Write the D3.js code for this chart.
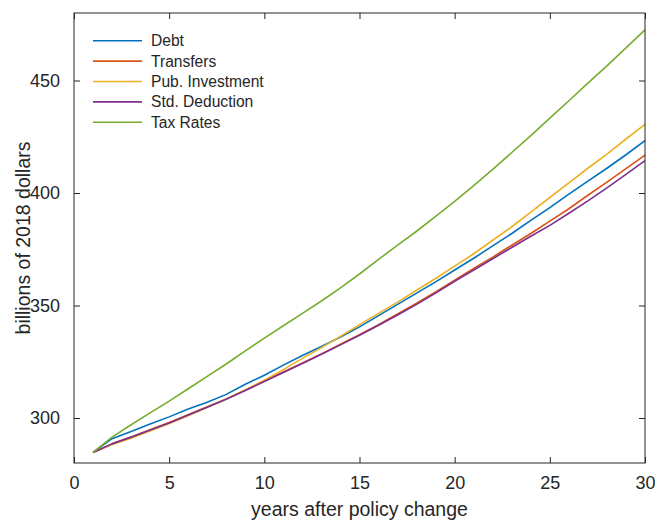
<!DOCTYPE html>
<html>
<head>
<meta charset="utf-8">
<script src="https://cdn.jsdelivr.net/npm/d3@7"></script>
<style>
  html, body { margin: 0; padding: 0; background: #fff; }
  svg { display: block; }
  text { font-family: "Liberation Sans", Arial, Helvetica, sans-serif; fill: #262626; }
</style>
</head>
<body>
<svg id="chart" width="655" height="522"></svg>
<script>
const years = d3.range(1, 31);
const seriesNames = ["Debt", "Transfers", "Pub. Investment", "Std. Deduction", "Tax Rates"];
const seriesColors = ["#0072BD", "#D95319", "#EDB120", "#7E2F8E", "#77AC30"];

const debt = [284.7, 290.8, 294.0, 297.3, 300.5, 304.0, 307.0, 310.5, 315.0, 319.0,
              323.5, 327.8, 331.8, 336.0, 340.5, 345.5, 350.5, 355.5, 360.5, 365.8,
              371.0, 376.5, 382.0, 387.8, 393.5, 399.5, 405.3, 411.0, 417.0, 423.3];
const transfers = [284.7, 288.5, 291.5, 294.8, 298.0, 301.5, 305.0, 308.5, 312.5, 316.5,
                   320.5, 324.5, 328.5, 332.8, 337.0, 341.5, 346.3, 351.0, 356.0, 361.3,
                   366.5, 371.5, 376.8, 382.0, 387.5, 393.0, 399.0, 404.8, 410.8, 416.8];
const pubInvestment = [284.7, 288.2, 291.0, 294.2, 297.5, 301.0, 304.8, 308.5, 312.5, 316.8,
                       321.5, 326.5, 331.3, 336.3, 341.5, 346.5, 351.5, 356.8, 362.0, 367.5,
                       373.0, 379.0, 385.0, 391.5, 398.0, 404.5, 411.0, 417.3, 424.0, 430.5];
const stdDeduction = [284.7, 288.5, 291.5, 294.7, 297.8, 301.3, 304.8, 308.3, 312.2, 316.2,
                      320.2, 324.2, 328.3, 332.5, 336.8, 341.2, 345.8, 350.5, 355.5, 360.8,
                      365.8, 370.8, 375.8, 380.8, 385.6, 391.0, 396.5, 402.3, 408.3, 414.4];
const taxRates = [284.7, 291.5, 297.0, 302.3, 307.5, 313.0, 318.5, 324.0, 329.8, 335.5,
                  341.0, 346.5, 352.0, 357.8, 364.0, 370.5, 376.8, 383.0, 389.6, 396.3,
                  403.3, 410.5, 418.0, 425.5, 433.3, 441.0, 448.8, 456.5, 464.5, 472.5];

const xTicks = [0, 5, 10, 15, 20, 25, 30];
const yTicks = [300, 350, 400, 450];
const xLabel = "years after policy change";
const yLabel = "billions of 2018 dollars";

const allSeries = [debt, transfers, pubInvestment, stdDeduction, taxRates];

const svg = d3.select("#chart");
const pLeft = 74, pRight = 645, pTop = 13, pBottom = 463;

const x = d3.scaleLinear().domain([0, 30]).range([pLeft, pRight]);
const y = d3.scaleLinear().domain([280, 480]).range([pBottom, pTop]);

const axisColor = "#262626";
const fs = 18;

// axes
const gx = svg.append("g").attr("transform", `translate(0,${pBottom})`)
  .call(d3.axisBottom(x).tickValues(xTicks).tickSize(-6).tickPadding(13).tickFormat(d3.format("d")));
const gxTop = svg.append("g").attr("transform", `translate(0,${pTop})`)
  .call(d3.axisTop(x).tickValues(xTicks).tickSize(-6).tickFormat(""));
const gy = svg.append("g").attr("transform", `translate(${pLeft},0)`)
  .call(d3.axisLeft(y).tickValues(yTicks).tickSize(-6).tickPadding(14).tickFormat(d3.format("d")));
const gyRight = svg.append("g").attr("transform", `translate(${pRight},0)`)
  .call(d3.axisRight(y).tickValues(yTicks).tickSize(-6).tickFormat(""));

[gx, gxTop, gy, gyRight].forEach(g => {
  g.select(".domain").remove();
  g.selectAll(".tick line").attr("stroke", axisColor).attr("stroke-width", 1);
  g.selectAll(".tick text").attr("font-size", fs).attr("fill", axisColor)
    .style("font-family", '"Liberation Sans", Arial, sans-serif');
});

// lines
const line = d3.line().x((d, i) => x(years[i])).y(d => y(d));
svg.append("g").selectAll("path").data(allSeries).join("path")
  .attr("d", d => line(d))
  .attr("fill", "none")
  .attr("stroke", (d, i) => seriesColors[i])
  .attr("stroke-width", 1.6)
  .attr("stroke-linejoin", "round");

// box
svg.append("rect").attr("x", pLeft).attr("y", pTop)
  .attr("width", pRight - pLeft).attr("height", pBottom - pTop)
  .attr("fill", "none").attr("stroke", axisColor).attr("stroke-width", 1);

// labels
svg.append("text").attr("x", (pLeft + pRight) / 2).attr("y", 516)
  .attr("text-anchor", "middle").attr("font-size", 19.5).text(xLabel);
svg.append("text").attr("transform", `translate(30,${(pTop + pBottom) / 2}) rotate(-90)`)
  .attr("text-anchor", "middle").attr("font-size", 19.5).text(yLabel);

// legend
const lg = svg.append("g");
seriesNames.forEach((name, i) => {
  const yy = 40.7 + i * 20.4;
  lg.append("line").attr("x1", 93).attr("x2", 142).attr("y1", yy).attr("y2", yy)
    .attr("stroke", seriesColors[i]).attr("stroke-width", 1.6);
  lg.append("text").attr("x", 151).attr("y", yy).attr("dy", "0.35em")
    .attr("font-size", 15.6).text(name);
});
</script>
</body>
</html>
